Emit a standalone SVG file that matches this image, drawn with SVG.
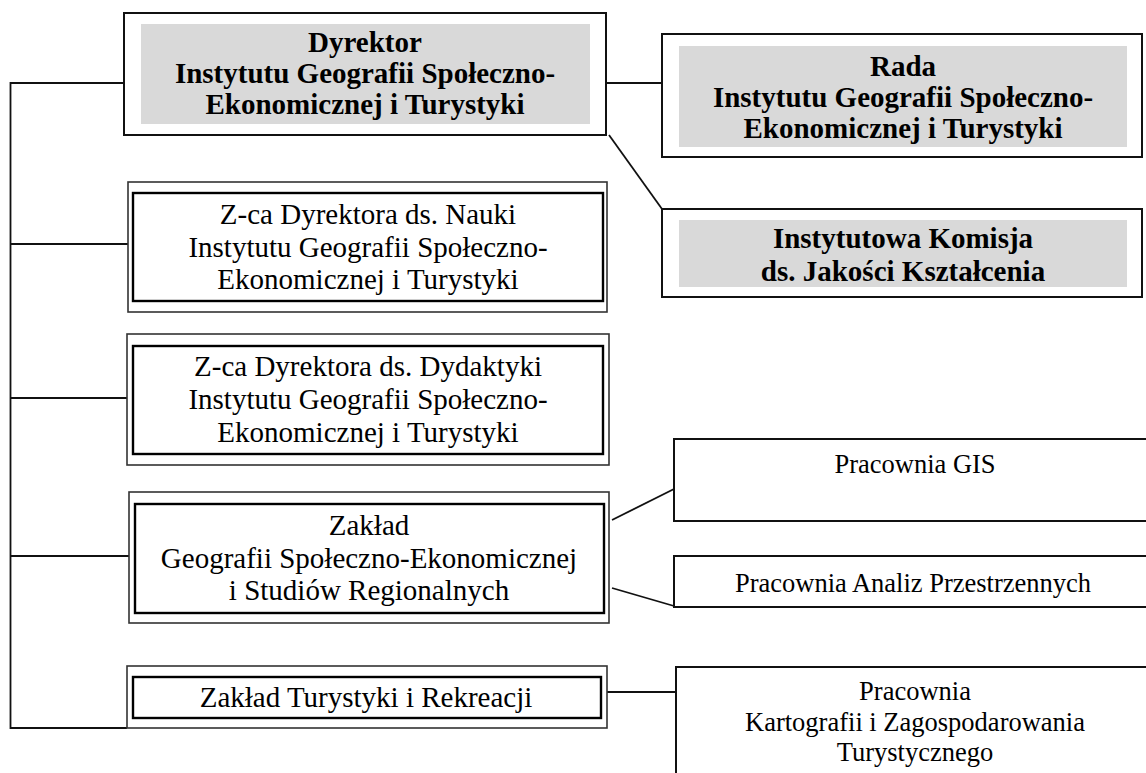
<svg xmlns="http://www.w3.org/2000/svg" width="1146" height="773" viewBox="0 0 1146 773">
<style>
.box{fill:#fff;stroke:#111;stroke-width:2}
.outer{fill:#fff;stroke:#333;stroke-width:1.6}
.inner{fill:none;stroke:#000;stroke-width:2.4}
.grey{fill:#d9d9d9;stroke:none}
.conn{fill:none;stroke:#111;stroke-width:1.8}
.b{font-family:"Liberation Serif","Times New Roman",serif;font-weight:bold;font-size:29px;fill:#000;text-anchor:middle}
.r{font-family:"Liberation Serif","Times New Roman",serif;font-size:29px;fill:#000;text-anchor:middle}
.s{font-family:"Liberation Serif","Times New Roman",serif;font-size:26.5px;fill:#000;text-anchor:middle}
</style>
<rect width="1146" height="773" fill="#fff"/>
<g id="connectors">
<polyline class="conn" points="124,83 10.5,83 10.5,728 127,728"/>
<line class="conn" x1="10.5" y1="244" x2="128" y2="244"/>
<line class="conn" x1="10.5" y1="398" x2="127" y2="398"/>
<line class="conn" x1="10.5" y1="556" x2="129" y2="556"/>
<line class="conn" x1="606" y1="83" x2="662" y2="83"/>
<line class="conn" x1="609" y1="135" x2="662" y2="209"/>
<line class="conn" x1="612" y1="520" x2="674" y2="489"/>
<line class="conn" x1="612" y1="588" x2="674" y2="606"/>
<line class="conn" x1="607" y1="692" x2="676" y2="692"/>
</g>
<g id="dyrektor">
<rect class="box" x="124" y="13" width="482" height="122"/>
<rect class="grey" x="141" y="24" width="449" height="100"/>
<text class="b" x="365" y="52">Dyrektor</text>
<text class="b" x="365" y="83">Instytutu Geografii Społeczno-</text>
<text class="b" x="365" y="114">Ekonomicznej i Turystyki</text>
</g>
<g id="rada">
<rect class="box" x="662" y="34" width="480" height="123"/>
<rect class="grey" x="679" y="46" width="448" height="101"/>
<text class="b" x="903" y="76">Rada</text>
<text class="b" x="903" y="107">Instytutu Geografii Społeczno-</text>
<text class="b" x="903" y="138">Ekonomicznej i Turystyki</text>
</g>
<g id="komisja">
<rect class="box" x="662" y="209" width="480" height="88"/>
<rect class="grey" x="679" y="220" width="448" height="67"/>
<text class="b" x="903" y="248">Instytutowa Komisja</text>
<text class="b" x="903" y="281">ds. Jakości Kształcenia</text>
</g>
<g id="zca-nauki">
<rect class="outer" x="128" y="182" width="479" height="130"/>
<rect class="inner" x="133" y="193" width="470" height="108"/>
<text class="r" x="368" y="224">Z-ca Dyrektora ds. Nauki</text>
<text class="r" x="368" y="257">Instytutu Geografii Społeczno-</text>
<text class="r" x="368" y="289">Ekonomicznej i Turystyki</text>
</g>
<g id="zca-dydaktyki">
<rect class="outer" x="127" y="334" width="482" height="131"/>
<rect class="inner" x="133" y="346" width="470" height="108"/>
<text class="r" x="368" y="376">Z-ca Dyrektora ds. Dydaktyki</text>
<text class="r" x="368" y="409">Instytutu Geografii Społeczno-</text>
<text class="r" x="368" y="442">Ekonomicznej i Turystyki</text>
</g>
<g id="zaklad-gse">
<rect class="outer" x="129" y="492" width="480" height="131"/>
<rect class="inner" x="135" y="504" width="469" height="109"/>
<text class="r" x="369" y="535">Zakład</text>
<text class="r" x="369" y="568">Geografii Społeczno-Ekonomicznej</text>
<text class="r" x="369" y="600">i Studiów Regionalnych</text>
</g>
<g id="zaklad-tir">
<rect class="outer" x="127" y="666" width="480" height="62"/>
<rect class="inner" x="133" y="677" width="468" height="41"/>
<text class="r" x="366" y="707">Zakład Turystyki i Rekreacji</text>
</g>
<g id="pracownia-gis">
<rect class="box" x="674" y="439" width="480" height="82"/>
<text class="s" x="915" y="473">Pracownia GIS</text>
</g>
<g id="pracownia-analiz">
<rect class="box" x="674" y="556" width="480" height="51"/>
<text class="s" x="913" y="592">Pracownia Analiz Przestrzennych</text>
</g>
<g id="pracownia-kartografii">
<rect class="box" x="676" y="667" width="480" height="120"/>
<text class="s" x="915" y="700">Pracownia</text>
<text class="s" x="915" y="731">Kartografii i Zagospodarowania</text>
<text class="s" x="915" y="761">Turystycznego</text>
</g>
</svg>
